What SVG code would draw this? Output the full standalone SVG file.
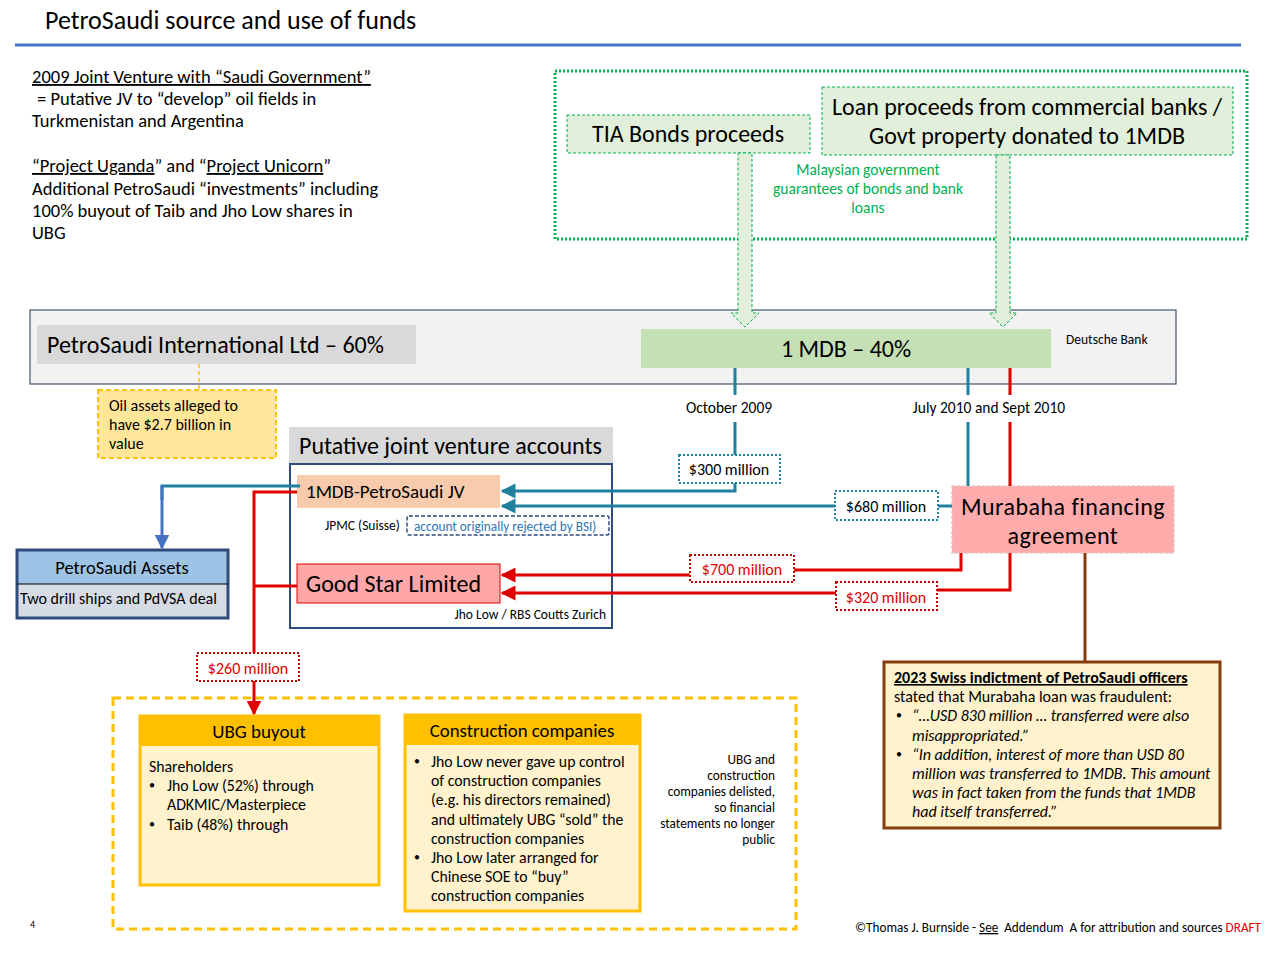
<svg xmlns="http://www.w3.org/2000/svg" width="1280" height="960" viewBox="0 0 1280 960">
<defs>
<style>
text{font-family:Carlito,Lato,"Liberation Sans",sans-serif;fill:#000}
.t21{font-size:24px}
.t16{font-size:19px}
.t14{font-size:15.8px}
.t13{font-size:16px}
.t11{font-size:13.5px}
.lbl{font-size:16px}
.bul{font-size:12px}
.teal{stroke:#1F80A0;stroke-width:3;fill:none}
.blue{stroke:#4472C4;stroke-width:3;fill:none}
.red{stroke:#E00000;stroke-width:3;fill:none}
.brown{stroke:#843C0C;stroke-width:3;fill:none}
.lblT{fill:#fff;stroke:#1F80A0;stroke-width:2;stroke-dasharray:2 2}
.lblR{fill:#fff;stroke:#C00000;stroke-width:2;stroke-dasharray:2 2}
.blk{fill:#E2EFDA;stroke:#00B050;stroke-width:1;stroke-dasharray:3 2}
</style>
<marker id="aT" viewBox="0 0 10 10" refX="9" refY="5" markerWidth="5" markerHeight="5" orient="auto" markerUnits="strokeWidth"><path d="M0,0 L10,5 L0,10 z" fill="#1F80A0"/></marker>
<marker id="aB" viewBox="0 0 10 10" refX="9" refY="5" markerWidth="5" markerHeight="5" orient="auto" markerUnits="strokeWidth"><path d="M0,0 L10,5 L0,10 z" fill="#4472C4"/></marker>
<marker id="aR" viewBox="0 0 10 10" refX="9" refY="5" markerWidth="5" markerHeight="5" orient="auto" markerUnits="strokeWidth"><path d="M0,0 L10,5 L0,10 z" fill="#E00000"/></marker>
</defs>
<rect width="1280" height="960" fill="#fff"/>

<!-- Title -->
<text x="45" y="29" style="font-size:26px">PetroSaudi source and use of funds</text>
<line x1="15" y1="45" x2="1241" y2="45" stroke="#4472C4" stroke-width="3"/>

<!-- Left notes -->
<g id="notes" style="font-size:18.5px">
<text x="32" y="83" text-decoration="underline">2009 Joint Venture with “Saudi Government”</text>
<text x="37" y="105">= Putative JV to “develop” oil fields in</text>
<text x="32" y="127">Turkmenistan and Argentina</text>
<text x="32" y="172"><tspan text-decoration="underline">“Project Uganda</tspan>” and “<tspan text-decoration="underline">Project Unicorn</tspan>”</text>
<text x="32" y="195">Additional PetroSaudi “investments” including</text>
<text x="32" y="217">100% buyout of Taib and Jho Low shares in</text>
<text x="32" y="239">UBG</text>
</g>

<!-- Sources -->
<g id="sources">
<rect x="555" y="71" width="692" height="168" fill="none" stroke="#00B050" stroke-width="3" stroke-dasharray="2 2"/>
<text x="868" y="175" text-anchor="middle" style="font-size:15.5px;fill:#00B050">Malaysian government</text>
<text x="868" y="194" text-anchor="middle" style="font-size:15.5px;fill:#00B050">guarantees of bonds and bank</text>
<text x="868" y="213" text-anchor="middle" style="font-size:15.5px;fill:#00B050">loans</text>
</g>
<g id="tia">
<rect x="567" y="115" width="243" height="38" class="blk"/>
<text x="688" y="142" text-anchor="middle" class="t21">TIA Bonds proceeds</text>
</g>
<g id="loan">
<rect x="822" y="87" width="411" height="68" class="blk"/>
<text x="1027" y="115" text-anchor="middle" class="t21">Loan proceeds from commercial banks /</text>
<text x="1027" y="144" text-anchor="middle" class="t21">Govt property donated to 1MDB</text>
</g>

<!-- Band -->
<g id="band">
<rect x="30" y="310" width="1146" height="74" fill="#F2F2F2" stroke="#44546A" stroke-width="1.2"/>
<text x="1066" y="344" class="t11">Deutsche Bank</text>
</g>
<g id="petrosaudi">
<rect x="37" y="325" width="379" height="39" fill="#D9D9D9"/>
<text x="47" y="353" class="t21">PetroSaudi International Ltd – 60%</text>
</g>
<g id="mdb">
<rect x="641" y="329" width="410" height="39" fill="#C5E0B4"/>
<text x="846" y="357" text-anchor="middle" class="t21">1 MDB – 40%</text>
</g>
<g id="blockarrows">
<path d="M738,153 L752,153 L752,313 L759,313 L745,327 L731,313 L738,313 Z" class="blk"/>
<path d="M996,155 L1010,155 L1010,313 L1017,313 L1003,327 L989,313 L996,313 Z" class="blk"/>
</g>

<!-- Oil assets -->
<g id="oil">
<line x1="199" y1="364" x2="199" y2="390" stroke="#FFC000" stroke-width="1.5" stroke-dasharray="4 3"/>
<rect x="98" y="390" width="178" height="68" fill="#FFE699" stroke="#FFC000" stroke-width="2" stroke-dasharray="5 3"/>
<text x="109" y="411" class="t13">Oil assets alleged to</text>
<text x="109" y="430" class="t13">have $2.7 billion in</text>
<text x="109" y="449" class="t13">value</text>
</g>

<!-- JV container -->
<g id="jv-accounts">
<rect x="289" y="427" width="324" height="37" fill="#D9D9D9"/>
<text x="299" y="454" class="t21">Putative joint venture accounts</text>
<rect x="290" y="464" width="322" height="164" fill="#fff" stroke="#2F4B7C" stroke-width="2"/>
<text x="606" y="619" text-anchor="end" class="t11">Jho Low / RBS Coutts Zurich</text>
<text x="325" y="530" class="t11">JPMC (Suisse)</text>
<rect x="407" y="516" width="202" height="19" rx="2" fill="none" stroke="#2F4B7C" stroke-width="1.5" stroke-dasharray="4 2"/>
<text x="414" y="531" style="font-size:13.3px;fill:#2E75B6">account originally rejected by BSI)</text>
</g>
<g id="jv">
<rect x="297" y="475" width="203" height="33" fill="#F8CBAD"/>
<text x="306" y="498" class="t16">1MDB-PetroSaudi JV</text>
</g>
<g id="goodstar">
<rect x="297" y="564" width="203" height="39" fill="#FFA7A7" stroke="#E00000" stroke-width="1"/>
<text x="306" y="592" class="t21">Good Star Limited</text>
</g>

<!-- PetroSaudi Assets -->
<g id="assets">
<rect x="17" y="550" width="211" height="34" fill="#9DC3E6"/>
<rect x="17" y="584" width="211" height="34" fill="#D6DCE5"/>
<rect x="17" y="550" width="211" height="68" fill="none" stroke="#2F4B7C" stroke-width="3"/>
<line x1="17" y1="584" x2="228" y2="584" stroke="#000" stroke-width="1"/>
<text x="122" y="574" text-anchor="middle" style="font-size:18.5px">PetroSaudi Assets</text>
<text x="20" y="604" style="font-size:16px">Two drill ships and PdVSA deal</text>
</g>

<!-- Murabaha -->
<g id="murabaha">
<rect x="952" y="486" width="222" height="67" fill="#FFABAB" stroke="#E8C8C8" stroke-width="1.5" stroke-dasharray="3 2"/>
<text x="1063" y="515" text-anchor="middle" style="font-size:24px;letter-spacing:0.5px">Murabaha financing</text>
<text x="1063" y="544" text-anchor="middle" style="font-size:24px;letter-spacing:0.5px">agreement</text>
</g>

<!-- Connectors -->
<g id="connectors">
<path d="M735,368 V395 M735,422 V456" class="teal"/>
<path d="M735,483 V491 H502" class="teal" marker-end="url(#aT)"/>
<path d="M968,368 V395 M968,422 V486" class="teal"/>
<path d="M952,506 H938" class="teal"/>
<path d="M835,506 H502" class="teal" marker-end="url(#aT)"/>
<path d="M300,486 H162 V500" class="teal"/>
<path d="M162,486 V548" class="blue" marker-end="url(#aB)"/>
<path d="M1010,368 V395 M1010,422 V486" class="red"/>
<path d="M961,553 V570 H794" class="red"/>
<path d="M690,575 H502" class="red" marker-end="url(#aR)"/>
<path d="M1010,553 V590 H937" class="red"/>
<path d="M836,593 H502" class="red" marker-end="url(#aR)"/>
<path d="M297,492 H254 V655 M297,586 H254" class="red"/>
<path d="M254,681 V714" class="red" marker-end="url(#aR)"/>
<path d="M1085,553 V662" class="brown"/>
</g>

<!-- connector labels -->
<g id="labels">
<text x="729" y="413" text-anchor="middle" style="font-size:15.5px">October 2009</text>
<text x="989" y="413" text-anchor="middle" style="font-size:15.5px">July 2010 and Sept 2010</text>
<rect x="679" y="455" width="101" height="28" class="lblT"/>
<text x="729" y="475" text-anchor="middle" class="lbl">$300 million</text>
<rect x="835" y="491" width="103" height="29" class="lblT"/>
<text x="886" y="512" text-anchor="middle" class="lbl">$680 million</text>
<rect x="690" y="555" width="104" height="27" class="lblR"/>
<text x="742" y="575" text-anchor="middle" class="lbl" style="fill:#E00000">$700 million</text>
<rect x="836" y="582" width="101" height="28" class="lblR"/>
<text x="886" y="603" text-anchor="middle" class="lbl" style="fill:#E00000">$320 million</text>
<rect x="197" y="653" width="102" height="28" class="lblR"/>
<text x="248" y="674" text-anchor="middle" class="lbl" style="fill:#E00000">$260 million</text>
</g>

<!-- UBG area -->
<g id="ubg-area">
<rect x="113" y="698" width="683" height="231" fill="none" stroke="#FFC000" stroke-width="3" stroke-dasharray="8 5"/>
<g style="font-size:13.3px" text-anchor="end">
<text x="775" y="764">UBG and</text>
<text x="775" y="780">construction</text>
<text x="775" y="796">companies delisted,</text>
<text x="775" y="812">so financial</text>
<text x="775" y="828">statements no longer</text>
<text x="775" y="844">public</text>
</g>
</g>
<g id="ubg">
<rect x="140" y="716" width="239" height="169" fill="#FFF2CC" stroke="#FFC000" stroke-width="3"/>
<rect x="140" y="716" width="239" height="30" fill="#FFC000"/>
<text x="259" y="738" text-anchor="middle" style="font-size:19px">UBG buyout</text>
<text x="149" y="772" class="t14">Shareholders</text>
<text x="149" y="789" class="bul">•</text><text x="167" y="791" class="t14">Jho Low (52%) through</text>
<text x="167" y="810" class="t14">ADKMIC/Masterpiece</text>
<text x="149" y="828" class="bul">•</text><text x="167" y="830" class="t14">Taib (48%) through</text>
</g>
<g id="construction">
<rect x="405" y="715" width="235" height="196" fill="#FFF2CC" stroke="#FFC000" stroke-width="3"/>
<rect x="405" y="715" width="235" height="30" fill="#FFC000"/>
<text x="522" y="737" text-anchor="middle" style="font-size:18.8px">Construction companies</text>
<text x="414" y="765" class="bul">•</text><text x="431" y="767" class="t14">Jho Low never gave up control</text>
<text x="431" y="786" class="t14">of construction companies</text>
<text x="431" y="805" class="t14">(e.g. his directors remained)</text>
<text x="431" y="825" class="t14">and ultimately UBG “sold” the</text>
<text x="431" y="844" class="t14">construction companies</text>
<text x="414" y="861" class="bul">•</text><text x="431" y="863" class="t14">Jho Low later arranged for</text>
<text x="431" y="882" class="t14">Chinese SOE to “buy”</text>
<text x="431" y="901" class="t14">construction companies</text>
</g>

<!-- Indictment -->
<g id="indictment">
<rect x="884" y="662" width="336" height="166" fill="#FFF2CC" stroke="#843C0C" stroke-width="3"/>
<text x="894" y="683" class="t13" font-weight="bold" text-decoration="underline">2023 Swiss indictment of PetroSaudi officers</text>
<text x="894" y="702" class="t13">stated that Murabaha loan was fraudulent:</text>
<text x="896" y="719" class="bul">•</text><text x="912" y="721" class="t13" font-style="italic">“…USD 830 million … transferred were also</text>
<text x="912" y="741" class="t13" font-style="italic">misappropriated.”</text>
<text x="896" y="758" class="bul">•</text><text x="912" y="760" class="t13" font-style="italic">“In addition, interest of more than USD 80</text>
<text x="912" y="779" class="t13" font-style="italic">million was transferred to 1MDB. This amount</text>
<text x="912" y="798" class="t13" font-style="italic">was in fact taken from the funds that 1MDB</text>
<text x="912" y="817" class="t13" font-style="italic">had itself transferred.”</text>
</g>

<!-- Footer -->
<text x="30" y="928" style="font-size:10px">4</text>
<text x="1261" y="932" text-anchor="end" style="font-size:13.2px" xml:space="preserve">©Thomas J. Burnside - <tspan text-decoration="underline">See</tspan>  Addendum  A for attribution and sources <tspan style="fill:#E00000">DRAFT</tspan></text>
</svg>
